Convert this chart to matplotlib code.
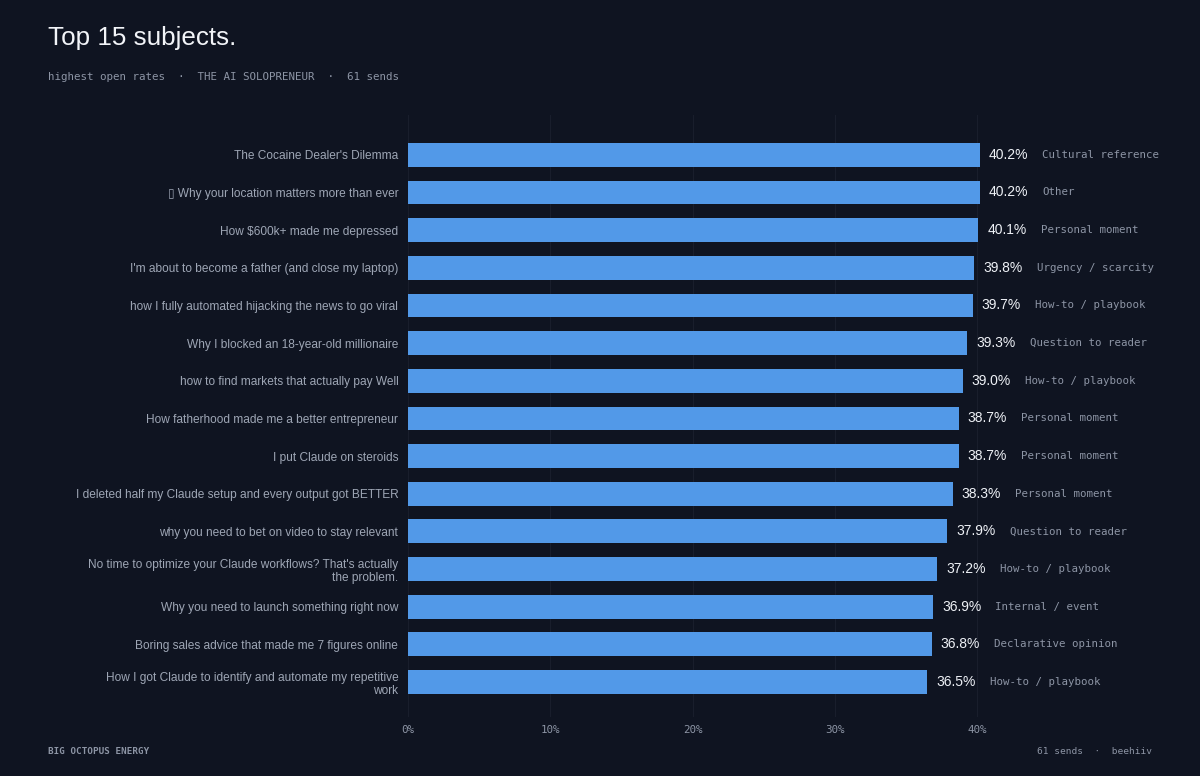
import matplotlib.pyplot as plt

plt.rcParams["font.family"] = ["Liberation Sans", "DejaVu Sans"]

# data
subjects = [
    "The Cocaine Dealer's Dilemma",
    "\u25af Why your location matters more than ever",
    "How $600k+ made me depressed",
    "I'm about to become a father (and close my laptop)",
    "how I fully automated hijacking the news to go viral",
    "Why I blocked an 18-year-old millionaire",
    "how to find markets that actually pay Well",
    "How fatherhood made me a better entrepreneur",
    "I put Claude on steroids",
    "I deleted half my Claude setup and every output got BETTER",
    "why you need to bet on video to stay relevant",
    "No time to optimize your Claude workflows? That's actually\nthe problem.",
    "Why you need to launch something right now",
    "Boring sales advice that made me 7 figures online",
    "How I got Claude to identify and automate my repetitive\nwork",
]
open_rates = [40.2, 40.2, 40.1, 39.8, 39.7, 39.3, 39.0, 38.7, 38.7, 38.3, 37.9, 37.2, 36.9, 36.8, 36.5]
tags = [
    "Cultural reference", "Other", "Personal moment", "Urgency / scarcity",
    "How-to / playbook", "Question to reader", "How-to / playbook",
    "Personal moment", "Personal moment", "Personal moment",
    "Question to reader", "How-to / playbook", "Internal / event",
    "Declarative opinion", "How-to / playbook",
]
x_ticks = [0, 10, 20, 30, 40]

BG = "#0f1421"
BAR = "#5299e8"
MUTED = "#8d95a5"
LABEL = "#9ea6b5"
MONO = "DejaVu Sans Mono"

fig = plt.figure(figsize=(12, 7.76), dpi=100, facecolor=BG)
ax = fig.add_axes([0.34, 0.076, 0.6283, 0.776])
ax.set_facecolor(BG)

y = list(range(len(subjects)))
ax.barh(y, open_rates, height=0.63, color=BAR, zorder=2)

ax.set_xlim(0, 53)
ax.set_ylim(len(subjects) - 1 + 0.93, -1.06)

# value + category tag to the right of each bar
for yi, v, t in zip(y, open_rates, tags):
    ax.annotate(f"{v:.1f}%", (v, yi), xytext=(6.5, 0), textcoords="offset points",
                ha="left", va="center", fontsize=10, color="#eef1f6")
    ax.annotate(t, (v, yi), xytext=(45, 0), textcoords="offset points",
                ha="left", va="center", fontsize=7.75, color=MUTED, family=MONO)

ax.set_yticks(y)
ax.set_yticklabels(subjects, fontsize=8.6, color=LABEL, linespacing=1.15)
ax.set_xticks(x_ticks)
ax.set_xticklabels([f"{t}%" for t in x_ticks], fontsize=7.8, color=MUTED, family=MONO)
ax.tick_params(axis="y", length=0, pad=7)
ax.tick_params(axis="x", length=0, pad=6)
ax.grid(axis="x", color="#191e2c", linewidth=0.8, zorder=0)
for s in ax.spines.values():
    s.set_visible(False)

fig.text(48 / 1200, 1 - 38 / 776, "Top 15 subjects.", fontsize=18.7, color="#f2f4f8",
         ha="left", va="center")
fig.text(48 / 1200, 1 - 77 / 776,
         "highest open rates  \u00b7  THE AI SOLOPRENEUR  \u00b7  61 sends",
         fontsize=7.8, color=MUTED, family=MONO, ha="left", va="center")
fig.text(48 / 1200, 1 - 752 / 776, "BIG OCTOPUS ENERGY", fontsize=6.7, color=MUTED,
         family=MONO, fontweight="bold", ha="left", va="center")
fig.text(1152 / 1200, 1 - 752 / 776, "61 sends  \u00b7  beehiiv", fontsize=6.8,
         color=MUTED, family=MONO, ha="right", va="center")

fig.savefig("out.png", dpi=100, facecolor=BG)
